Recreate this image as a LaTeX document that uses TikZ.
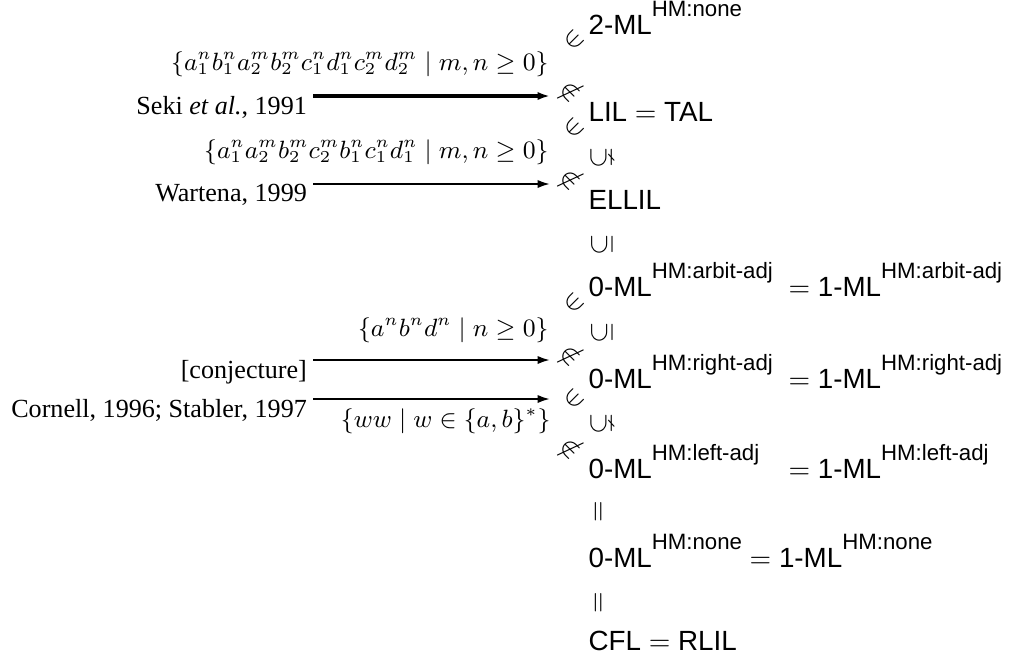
\documentclass[tikz,border=0pt]{standalone}
\usepackage{amssymb}
\usepackage{fontspec}
\setmainfont{Liberation Serif}
\setsansfont{Liberation Sans}
\usetikzlibrary{arrows.meta}
\newcommand{\hmsup}[1]{\raisebox{0.64em}{\fontsize{8}{9}\selectfont HM:#1}}

\begin{document}
\begin{tikzpicture}[x=0.36pt,y=-0.36pt,
  cls/.style={anchor=base west,inner sep=0,font=\sffamily},
  rel/.style={inner sep=0},
  lbl/.style={anchor=north east,inner sep=0,font=\fontsize{9.4}{11}\selectfont},
  lang/.style={anchor=base east,inner sep=0,font=\fontsize{9.2}{11}\selectfont},
  arr/.style={-{Latex[length=4.5pt,width=3pt]},line width=0.75pt}]
\useasboundingbox (0,0) rectangle (1012,657);

\node [cls] (ml2) at (588,34) {2-ML\hmsup{none}};
\node [cls] (lil) at (588,121) {LIL $=$ TAL};
\node [cls] (ellil) at (588,209) {ELLIL};
\node [cls] (arb0) at (588,296) {0-ML\hmsup{arbit-adj}};
\node [cls] (arb1) at (788,296) {$=$ 1-ML\hmsup{arbit-adj}};
\node [cls] (rgt0) at (588,388) {0-ML\hmsup{right-adj}};
\node [cls] (rgt1) at (788,388) {$=$ 1-ML\hmsup{right-adj}};
\node [cls] (lft0) at (588,478) {0-ML\hmsup{left-adj}};
\node [cls] (lft1) at (788,478) {$=$ 1-ML\hmsup{left-adj}};
\node [cls] (non) at (588,567) {0-ML\hmsup{none} $=$ 1-ML\hmsup{none}};
\node [cls] (cfl) at (588,650) {CFL $=$ RLIL};

\node [rel,rotate=90] (r1) at (602,158) {$\subsetneq$};
\node [rel,rotate=90] (r2) at (602,245) {$\subseteq$};
\node [rel,rotate=90] (r3) at (602,333) {$\subseteq$};
\node [rel,rotate=90] (r4) at (602,424) {$\subsetneq$};
\node [rel,rotate=90] (r5) at (600,512) {$=$};
\node [rel,rotate=90] (r6) at (600,603) {$=$};

\coordinate (A1) at (313,96);  \coordinate (B1) at (550,96);
\coordinate (A2) at (313,184); \coordinate (B2) at (550,184);
\coordinate (A3) at (313,360); \coordinate (B3) at (550,360);
\coordinate (A4) at (313,399); \coordinate (B4) at (550,399);

\draw [arr,line width=1.1pt] (A1)--(B1);
\draw [arr] (A2)--(B2);
\draw [arr] (A3)--(B3);
\draw [arr] (A4)--(B4);

\node [lbl] (seki) at ([xshift=-2pt]A1) {Seki \textit{et al.}, 1991};
\node [lbl] (wart) at ([xshift=-2pt]A2) {Wartena, 1999};
\node [lbl] (conj) at ([xshift=-2pt]A3) {[conjecture]};
\node [lbl] (corn) at ([xshift=-2pt]A4) {Cornell, 1996; Stabler, 1997};

\node [lang] (L1) at (549,70) {$\{a_1^nb_1^na_2^mb_2^mc_1^nd_1^nc_2^md_2^m\mid m,n\geq 0\}$};
\node [lang] (L2) at (549,158) {$\{a_1^na_2^mb_2^mc_2^mb_1^nc_1^nd_1^n\mid m,n\geq 0\}$};
\node [lang] (L3) at (549,336) {$\{a^nb^nd^n\mid n\geq 0\}$};
\node [lang] (L4) at (551,427) {$\{ww\mid w\in\{a,b\}^*\}$};

\node [rel,rotate=45] (in1) at (574,40) {$\in$};
\node [rel,rotate=-45] (ni1) at (572,90) {$\notin$};
\node [rel,rotate=45] (in2) at (574,128) {$\in$};
\node [rel,rotate=-45] (ni2) at (572,178) {$\notin$};
\node [rel,rotate=45] (in3) at (574,303) {$\in$};
\node [rel,rotate=-45] (ni3) at (572,354) {$\notin$};
\node [rel,rotate=45] (in4) at (574,399) {$\in$};
\node [rel,rotate=-45] (ni4) at (572,447) {$\notin$};
\end{tikzpicture}
\end{document}
